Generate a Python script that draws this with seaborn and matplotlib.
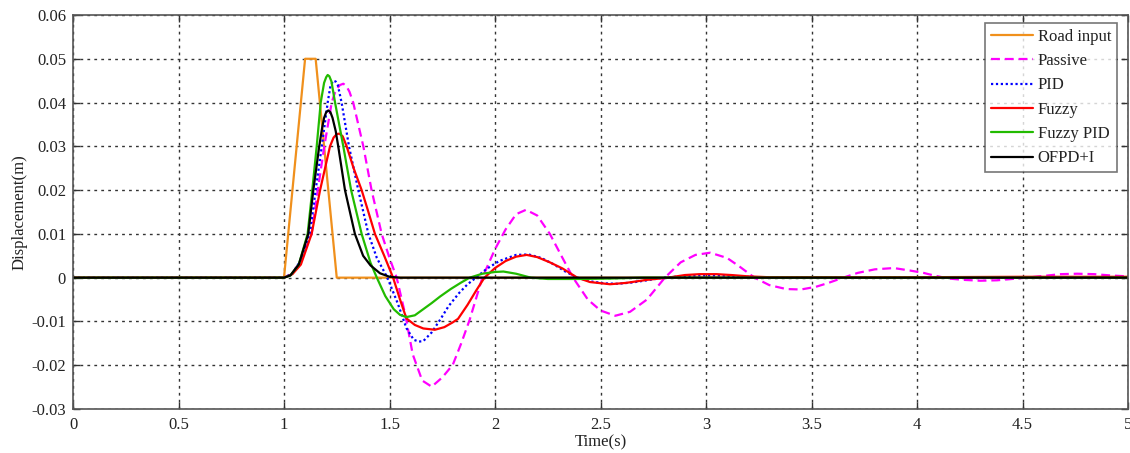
import numpy as np
import pandas as pd
import matplotlib
matplotlib.use("Agg")
import matplotlib.pyplot as plt
import seaborn as sns

# ---------------- data ----------------
t_road = [0, 1.0, 1.10, 1.15, 1.25, 5.0]
road = [0, 0, 0.05, 0.05, 0, 0]

t_passive = [0, 1.0, 1.04, 1.08, 1.131, 1.16, 1.191, 1.226, 1.245, 1.265, 1.281, 1.295, 1.31,
             1.328, 1.376, 1.415, 1.463, 1.50, 1.534, 1.575, 1.61, 1.655, 1.70, 1.75, 1.80,
             1.84, 1.88, 1.94, 2.00, 2.05, 2.10, 2.147, 2.20, 2.26, 2.32, 2.37, 2.44, 2.50,
             2.57, 2.64, 2.72, 2.805, 2.88, 2.95, 3.02, 3.10, 3.16, 3.23, 3.30, 3.38, 3.45,
             3.52, 3.58, 3.65, 3.72, 3.80, 3.89, 3.97, 4.03, 4.08, 4.15, 4.22, 4.30, 4.38,
             4.45, 4.52, 4.60, 4.68, 4.76, 4.84, 4.92, 5.0]
passive = [0, 0, 0.001, 0.004, 0.010, 0.020, 0.030, 0.040, 0.0428, 0.0440, 0.0443, 0.0438,
           0.0425, 0.040, 0.030, 0.020, 0.010, 0.0045, 0.0, -0.0085, -0.0175, -0.0235,
           -0.0249, -0.0228, -0.0199, -0.0150, -0.0096, 0.0, 0.0065, 0.011, 0.0145, 0.0155,
           0.0142, 0.010, 0.0045, 0.0, -0.005, -0.0075, -0.0087, -0.0078, -0.005, 0.0,
           0.0035, 0.0052, 0.0057, 0.0045, 0.0025, 0.0, -0.0017, -0.0026, -0.0027, -0.0021,
           -0.0012, 0.0, 0.0011, 0.0019, 0.0022, 0.0016, 0.0011, 0.0005, -0.0002, -0.0005,
           -0.0007, -0.0006, -0.0003, 0.0, 0.0004, 0.0008, 0.0009, 0.0008, 0.0005, 0.0003]

t_pid = [0, 1.0, 1.04, 1.08, 1.123, 1.150, 1.179, 1.207, 1.22, 1.234, 1.245, 1.255, 1.273,
         1.308, 1.352, 1.40, 1.44, 1.49, 1.54, 1.58, 1.615, 1.64, 1.66, 1.70, 1.74, 1.78,
         1.83, 1.87, 1.91, 1.96, 2.02, 2.10, 2.16, 2.22, 2.28, 2.33, 2.39, 2.46, 2.52, 2.58,
         2.65, 2.72, 2.80, 2.88, 2.96, 3.05, 3.12, 3.20, 3.30, 5.0]
pid = [0, 0, 0.001, 0.004, 0.010, 0.020, 0.030, 0.040, 0.0438, 0.045, 0.0448, 0.0440,
       0.040, 0.030, 0.020, 0.010, 0.0045, 0.0, -0.006, -0.0115, -0.0142, -0.0146, -0.0145,
       -0.0125, -0.0096, -0.0065, -0.0035, -0.0015, 0.0, 0.002, 0.0038, 0.0052, 0.0053,
       0.0045, 0.003, 0.0015, 0.0, -0.0009, -0.0013, -0.0014, -0.0011, -0.0006, 0.0,
       0.0003, 0.0005, 0.0005, 0.0004, 0.0002, 0.0, 0.0]

t_fuzzy = [0, 1.0, 1.04, 1.08, 1.131, 1.171, 1.218, 1.235, 1.25, 1.262, 1.278, 1.297, 1.33,
           1.368, 1.40, 1.431, 1.475, 1.517, 1.55, 1.58, 1.62, 1.66, 1.715, 1.76, 1.80,
           1.825, 1.87, 1.91, 1.95, 2.00, 2.05, 2.10, 2.15, 2.20, 2.26, 2.32, 2.39, 2.45,
           2.545, 2.62, 2.72, 2.82, 2.90, 2.97, 3.05, 3.12, 3.20, 3.30, 4.0, 4.5, 5.0]
fuzzy = [0, 0, 0.0008, 0.003, 0.010, 0.020, 0.030, 0.0320, 0.0328, 0.0329, 0.0323, 0.030,
         0.025, 0.020, 0.015, 0.010, 0.005, 0.0, -0.005, -0.0093, -0.0108, -0.0116,
         -0.0119, -0.0113, -0.0102, -0.0094, -0.0062, -0.003, 0.0, 0.0022, 0.0038, 0.0048,
         0.0052, 0.0047, 0.0035, 0.0021, 0.0, -0.001, -0.0015, -0.0012, -0.0005, 0.0,
         0.0006, 0.0008, 0.0008, 0.0006, 0.0003, 0.0001, 0.0001, 0.0002, 0.0002]

t_fpid = [0, 1.0, 1.03, 1.07, 1.112, 1.134, 1.155, 1.174, 1.19, 1.20, 1.207, 1.215, 1.225,
          1.242, 1.281, 1.318, 1.368, 1.41, 1.44, 1.48, 1.52, 1.55, 1.58, 1.62, 1.66, 1.70,
          1.74, 1.79, 1.84, 1.88, 1.94, 2.00, 2.04, 2.10, 2.17, 2.25, 2.40, 2.55, 2.70, 5.0]
fpid = [0, 0, 0.0005, 0.003, 0.010, 0.020, 0.030, 0.040, 0.0445, 0.0458, 0.0463, 0.0460,
        0.0448, 0.040, 0.030, 0.020, 0.010, 0.0034, 0.0, -0.0042, -0.0072, -0.0085,
        -0.0090, -0.0086, -0.0072, -0.0058, -0.0043, -0.0026, -0.0011, 0.0, 0.0009, 0.0013,
        0.0014, 0.0009, 0.0, -0.0003, -0.0003, -0.0002, 0.0, 0.0]

t_ofpd = [0, 1.0, 1.03, 1.07, 1.115, 1.139, 1.167, 1.18, 1.19, 1.20, 1.21, 1.22, 1.23,
          1.245, 1.257, 1.289, 1.336, 1.375, 1.41, 1.455, 1.50, 1.55, 5.0]
ofpd = [0, 0, 0.0005, 0.003, 0.010, 0.020, 0.030, 0.0340, 0.0365, 0.0378, 0.0382, 0.0378,
        0.0365, 0.0335, 0.030, 0.020, 0.010, 0.005, 0.0028, 0.001, 0.0002, 0.0, 0.0]

x_ticks = [0, 0.5, 1, 1.5, 2, 2.5, 3, 3.5, 4, 4.5, 5]
x_tick_labels = ["0", "0.5", "1", "1.5", "2", "2.5", "3", "3.5", "4", "4.5", "5"]
y_ticks = [-0.03, -0.02, -0.01, 0, 0.01, 0.02, 0.03, 0.04, 0.05, 0.06]
y_tick_labels = ["-0.03", "-0.02", "-0.01", "0", "0.01", "0.02", "0.03", "0.04", "0.05", "0.06"]

# ---------------- styling ----------------
sns.set_theme(style="white")
plt.rcParams["font.family"] = ["Liberation Serif", "DejaVu Serif"]

fig = plt.figure(figsize=(11.3, 4.53), dpi=100)
ax = fig.add_axes([73 / 1130, 1 - 409 / 453, 1055 / 1130, 394 / 453])

series = [
    ("Road input", t_road, road, "#F0901C", "-"),
    ("Passive", t_passive, passive, "#FF00FF", "--"),
    ("PID", t_pid, pid, "#0000FF", ":"),
    ("Fuzzy", t_fuzzy, fuzzy, "#FF0000", "-"),
    ("Fuzzy PID", t_fpid, fpid, "#22BB00", "-"),
    ("OFPD+I", t_ofpd, ofpd, "#000000", "-"),
]

for name, t, v, col, ls in series:
    df = pd.DataFrame({"t": t, "v": v})
    line_ax = sns.lineplot(data=df, x="t", y="v", ax=ax, color=col, label=name,
                           linewidth=1.6, sort=False, estimator=None)
    ln = line_ax.get_lines()[-1]
    ln.set_solid_joinstyle("round")
    if ls == "--":
        ln.set_dashes([4, 2.2])
    elif ls == ":":
        ln.set_dashes([1, 1.2])

ax.set_xlim(0, 5)
ax.set_ylim(-0.03, 0.06)
ax.set_xticks(x_ticks)
ax.set_xticklabels(x_tick_labels)
ax.set_yticks(y_ticks)
ax.set_yticklabels(y_tick_labels)
ax.tick_params(direction="in", length=5, width=1, colors="#333333", labelcolor="#222222",
               labelsize=12, top=True, right=True, bottom=True, left=True)
ax.tick_params(axis="x", pad=6)
ax.tick_params(axis="y", pad=5)
ax.grid(True, linestyle=(0, (2, 3)), color="#333333", linewidth=1.0)
for sp in ax.spines.values():
    sp.set_color("#555555")
    sp.set_linewidth(1.2)

ax.set_xlabel("Time(s)", fontsize=12, color="#222222", labelpad=1)
ax.set_ylabel("Displacement(m)", fontsize=12, color="#222222", labelpad=3)

leg = ax.legend(loc="upper right", bbox_to_anchor=(0.9896, 0.98), borderaxespad=0,
                fontsize=12, frameon=True, fancybox=False, edgecolor="#555555",
                handlelength=2.5, handletextpad=0.3, labelspacing=0.5, borderpad=0.35)
leg.get_frame().set_linewidth(1.2)
for txt in leg.get_texts():
    txt.set_color("#222222")

fig.savefig("out.png", dpi=100)
